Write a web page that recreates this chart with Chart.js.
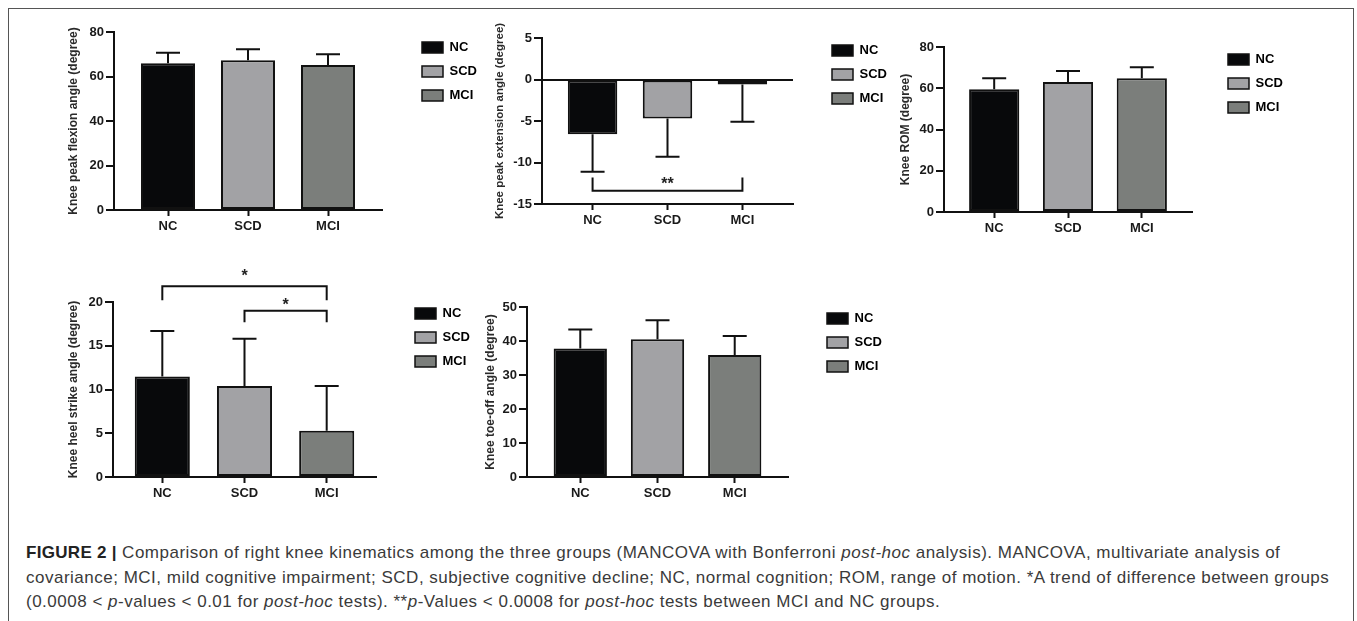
<!DOCTYPE html>
<html>
<head>
<meta charset="utf-8">
<script src="https://cdn.jsdelivr.net/npm/chart.js@4.4.1/dist/chart.umd.min.js"></script>
<style>
  body { margin:0; background:#fff; width:1357px; height:621px; overflow:hidden; position:relative; font-family:"Liberation Sans", Arial, sans-serif; }
  #frame { position:absolute; left:8px; top:8px; width:1344px; height:660px; border:1.5px solid #555; }
  canvas { position:absolute; }
  #caption { position:absolute; left:26px; top:541px; font-size:17px; letter-spacing:0.5px; line-height:24.5px; color:#3a3a3a; white-space:nowrap; }
  #caption b { color:#222; letter-spacing:0.3px; }
</style>
</head>
<body>
<div id="frame"></div>
<canvas id="flexChart"></canvas>
<canvas id="extChart"></canvas>
<canvas id="romChart"></canvas>
<canvas id="heelChart"></canvas>
<canvas id="toeChart"></canvas>
<div id="caption"><b>FIGURE 2 |</b> Comparison of right knee kinematics among the three groups (MANCOVA with Bonferroni <i>post-hoc</i> analysis). MANCOVA, multivariate analysis of<br>covariance; MCI, mild cognitive impairment; SCD, subjective cognitive decline; NC, normal cognition; ROM, range of motion. *A trend of difference between groups<br>(0.0008 &lt; <i>p</i>-values &lt; 0.01 for <i>post-hoc</i> tests). **<i>p</i>-Values &lt; 0.0008 for <i>post-hoc</i> tests between MCI and NC groups.</div>
<script>
// grupos y colores
const groups = ['NC', 'SCD', 'MCI'];
const colors = ['#08090b', '#a2a2a5', '#7b7e7b'];

// media y error (grados)
const flexion = [65.9, 67.3, 65.2];
const flexionErr = [4.8, 4.9, 4.8];
const flexionTicks = [0, 20, 40, 60, 80];

const extension = [-6.6, -4.7, -0.6];
const extensionErr = [4.5, 4.6, 4.5];
const extensionTicks = [-15, -10, -5, 0, 5];
const extensionSig = [{from: 0, to: 2, y: -13.4, end: -11.8, text: '**', textY: -12.7}];

const rom = [59.5, 63.0, 64.8];
const romErr = [5.3, 5.4, 5.4];
const romTicks = [0, 20, 40, 60, 80];

const heelStrike = [11.5, 10.4, 5.3];
const heelStrikeErr = [5.2, 5.4, 5.1];
const heelStrikeTicks = [0, 5, 10, 15, 20];
const heelStrikeSig = [
  {from: 0, to: 2, y: 21.8, end: 20.2, text: '*', textY: 22.9},
  {from: 1, to: 2, y: 19.0, end: 17.7, text: '*', textY: 19.6}
];

const toeOff = [37.8, 40.5, 35.9];
const toeOffErr = [5.6, 5.6, 5.6];
const toeOffTicks = [0, 10, 20, 30, 40, 50];

Chart.defaults.font.family = '"Liberation Sans", Arial, sans-serif';
Chart.defaults.font.weight = 'bold';
Chart.defaults.color = '#1a1a1a';

// barras de error y corchetes de significancia
Chart.register({
  id: 'extras',
  afterDatasetsDraw(chart, args, opts) {
    const {ctx, scales: {x, y}} = chart;
    const data = chart.data.datasets[0].data;
    ctx.save();
    ctx.strokeStyle = '#111';
    ctx.lineWidth = 2;
    chart.getDatasetMeta(0).data.forEach((bar, i) => {
      const v = data[i].y;
      const e = opts.errs[i] * (v < 0 ? -1 : 1);
      const y0 = y.getPixelForValue(v), y1 = y.getPixelForValue(v + e);
      ctx.beginPath();
      ctx.moveTo(bar.x, y0); ctx.lineTo(bar.x, y1);
      ctx.moveTo(bar.x - 12, y1); ctx.lineTo(bar.x + 12, y1);
      ctx.stroke();
    });
    (opts.brackets || []).forEach(b => {
      const x0 = x.getPixelForValue(b.from), x1 = x.getPixelForValue(b.to);
      const yb = y.getPixelForValue(b.y), ye = y.getPixelForValue(b.end);
      ctx.beginPath();
      ctx.moveTo(x0, ye); ctx.lineTo(x0, yb); ctx.lineTo(x1, yb); ctx.lineTo(x1, ye);
      ctx.stroke();
      ctx.fillStyle = '#222';
      ctx.font = 'bold 16px "Liberation Sans", Arial, sans-serif';
      ctx.textAlign = 'center';
      ctx.textBaseline = 'middle';
      ctx.fillText(b.text, (x0 + x1) / 2, y.getPixelForValue(b.textY));
    });
    ctx.restore();
  }
});

const LEGEND_W = 70;

// g: posicion del panel en la pagina (area del grafico, titulo y leyenda)
function panel(id, g, title, values, errs, ticks, brackets) {
  const canvas = document.getElementById(id);
  const left = Math.round(g.titleX - 11.2);
  const legendTop = g.legendY - 17.5;
  const top = Math.round(legendTop - g.padTop);
  const width = g.R - left + (g.legendX - 11 - g.R) + LEGEND_W;
  const height = g.B + 30 - top;
  canvas.width = width; canvas.height = height;
  canvas.style.left = left + 'px'; canvas.style.top = top + 'px';

  new Chart(canvas.getContext('2d'), {
    type: 'bar',
    data: {
      labels: groups,
      datasets: [{
        data: values.map((v, i) => ({x: i, y: v})),
        xAxisID: 'x', yAxisID: 'y',
        backgroundColor: colors,
        borderColor: '#111',
        borderWidth: 2,
        borderSkipped: false,
        categoryPercentage: 1,
        barPercentage: g.bar
      }]
    },
    options: {
      responsive: false,
      animation: false,
      layout: { padding: { top: g.padTop, left: 0, right: 0, bottom: 0 } },
      plugins: {
        tooltip: { enabled: false },
        legend: {
          position: 'right', align: 'start', maxWidth: LEGEND_W,
          labels: {
            boxWidth: 21, boxHeight: 11, padding: 11, color: '#111',
            font: { size: 13, weight: 'bold' },
            generateLabels: () => groups.map((t, i) => ({
              text: t, fillStyle: colors[i], strokeStyle: '#111', lineWidth: 1.5, hidden: false, index: i
            }))
          }
        },
        extras: { errs, brackets }
      },
      scales: {
        x: {
          type: 'linear', position: 'bottom', offset: false,
          min: -g.xPad, max: 2 + g.xPad,
          afterBuildTicks: s => { s.ticks = groups.map((_, i) => ({value: i})); },
          afterFit: s => { s.height = 30; },
          ticks: { callback: v => groups[v], padding: 3, maxRotation: 0, autoSkip: false, font: { size: 13 }, color: '#1a1a1a' },
          grid: { offset: false, drawOnChartArea: false, tickLength: 6, tickWidth: 2, tickColor: '#111' },
          border: { color: '#111', width: 2 }
        },
        y: {
          type: 'linear', position: 'left',
          min: ticks[0], max: ticks[ticks.length - 1],
          afterBuildTicks: s => { s.ticks = ticks.map(v => ({value: v})); },
          afterFit: s => { s.width = g.L - left; },
          ticks: { padding: 2, font: { size: 13 }, color: '#1a1a1a' },
          grid: {
            drawOnChartArea: !!g.zeroLine,
            color: c => (c.tick && c.tick.value === 0) ? '#111' : 'rgba(0,0,0,0)',
            lineWidth: 2, tickLength: 8, tickWidth: 2, tickColor: '#111'
          },
          border: { color: '#111', width: 2 },
          title: { display: true, text: title, color: '#2a2a2a', font: { size: g.titleSize || 12, weight: 'bold' } }
        },
        gapR: {
          type: 'linear', position: 'right', display: true,
          grid: { display: false }, border: { display: false }, ticks: { display: false },
          afterFit: s => { s.width = g.legendX - 11 - g.R; }
        },
        gapT: {
          type: 'linear', position: 'top', display: true,
          grid: { display: false }, border: { display: false }, ticks: { display: false },
          afterFit: s => { s.height = g.T - top - g.padTop; }
        }
      }
    }
  });
}

panel('flexChart', {L: 114, R: 382, T: 32, B: 210, titleX: 73, legendX: 422, legendY: 47, padTop: 10, xPad: 0.675, bar: 0.675},
  'Knee peak flexion angle (degree)', flexion, flexionErr, flexionTicks);
panel('extChart', {L: 542, R: 793, T: 38, B: 204, titleX: 500, legendX: 832, legendY: 50, padTop: 18, xPad: 0.675, bar: 0.66, zeroLine: true, titleSize: 11.5},
  'Knee peak extension angle (degree)', extension, extensionErr, extensionTicks, extensionSig);
panel('romChart', {L: 944, R: 1192, T: 47, B: 212, titleX: 905, legendX: 1228, legendY: 59, padTop: 10, xPad: 0.68, bar: 0.68},
  'Knee ROM (degree)', rom, romErr, romTicks);
panel('heelChart', {L: 113, R: 376, T: 302, B: 477, titleX: 73, legendX: 415, legendY: 313, padTop: 34, xPad: 0.6, bar: 0.67},
  'Knee heel strike angle (degree)', heelStrike, heelStrikeErr, heelStrikeTicks, heelStrikeSig);
panel('toeChart', {L: 527, R: 788, T: 307, B: 477, titleX: 490, legendX: 827, legendY: 318, padTop: 10, xPad: 0.69, bar: 0.69},
  'Knee toe-off angle (degree)', toeOff, toeOffErr, toeOffTicks);
</script>
</body>
</html>
